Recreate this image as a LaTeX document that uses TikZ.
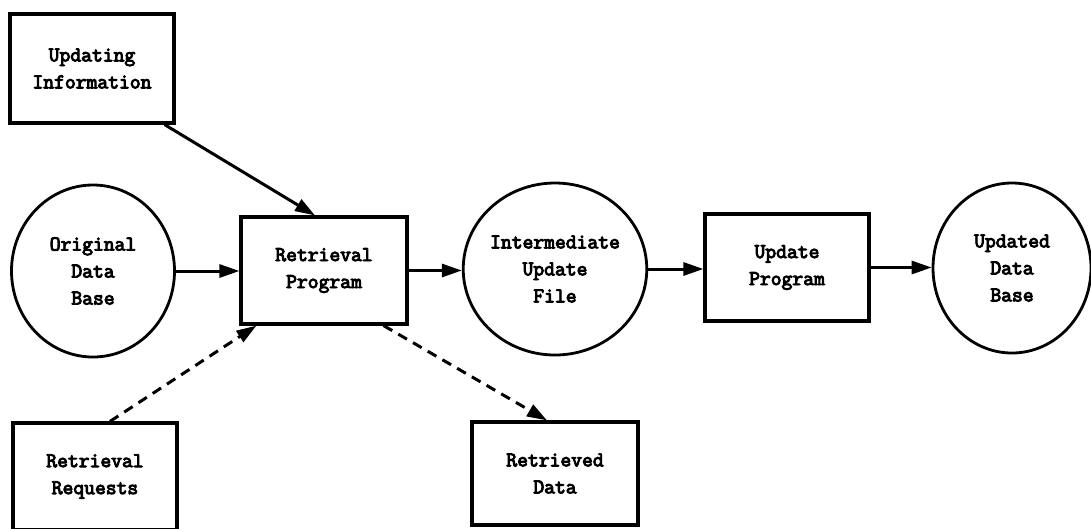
\documentclass[tikz,border=0pt]{standalone}
\usepackage{fontspec}
\newfontfamily\diafont{Latin Modern Mono}[FakeBold=4.5]
\usetikzlibrary{arrows.meta,shapes.geometric,calc}
\begin{document}
\begin{tikzpicture}[x=1pt,y=-1pt,
  lbl/.style={font=\fontsize{21}{27}\selectfont\diafont, align=center, text=black},
  boxnode/.style={lbl, draw=black, line width=3.2pt, rectangle, inner sep=0pt},
  storenode/.style={lbl, draw=black, line width=2.8pt, ellipse, inner sep=0pt},
  arr/.style={line width=3pt, -{Triangle[length=20pt,width=13pt]}},
  darr/.style={arr, dash pattern=on 10pt off 7pt}]
\useasboundingbox[fill=white] (0,0) rectangle (1091,528);
\node[boxnode, minimum width=164pt, minimum height=109pt] (upd) at (92,68.5) {Updating\\Information};
\node[storenode, minimum width=163pt, minimum height=172pt] (orig) at (93,271) {Original\\Data\\Base};
\node[boxnode, minimum width=166pt, minimum height=107pt] (ret) at (324,270.5) {Retrieval\\Program};
\node[storenode, minimum width=164pt, minimum height=172pt] (inter) at (555,269) {Intermediate\\Update\\File};
\node[boxnode, minimum width=164pt, minimum height=107pt] (updp) at (787,267.5) {Update\\Program};
\node[storenode, minimum width=158pt, minimum height=170pt] (newdb) at (1012,268) {Updated\\Data\\Base};
\node[boxnode, minimum width=164pt, minimum height=107pt] (req) at (95,476.5) {Retrieval\\Requests};
\node[boxnode, minimum width=166pt, minimum height=103pt] (rdata) at (555,473.5) {Retrieved\\Data};
\draw[arr] ([xshift=-11pt]upd.south east) -- ([xshift=-9pt]ret.north);
\draw[arr] (orig.east) -- (orig.east -| ret.west);
\draw[arr] (ret.east) -- (ret.east -| inter.west);
\draw[arr] (inter.east) -- (inter.east -| updp.west);
\draw[arr] (updp.east) -- (updp.east -| newdb.west);
\draw[darr] ([xshift=15pt]req.north) -- ([xshift=17pt]ret.south west);
\draw[darr] ([xshift=-25pt]ret.south east) -- ([xshift=-8pt]rdata.north);
\end{tikzpicture}
\end{document}
